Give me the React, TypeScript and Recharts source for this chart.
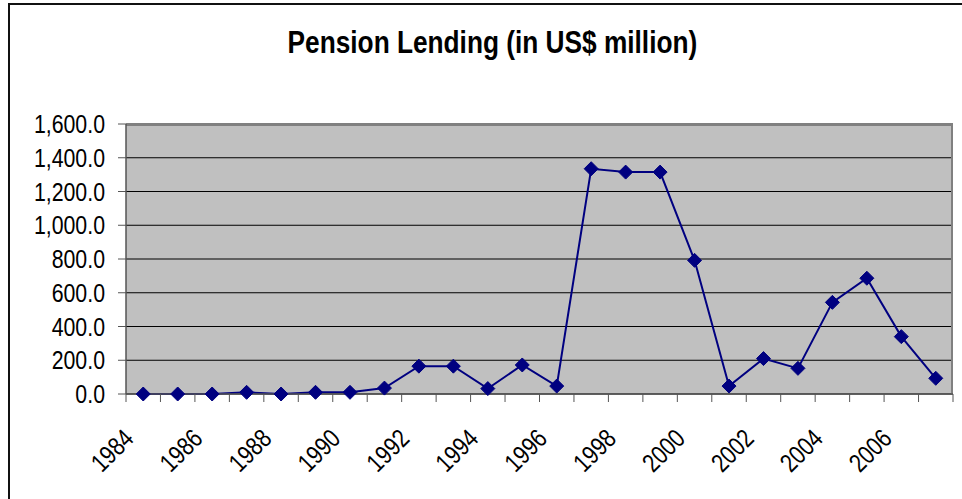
import { LineChart, Line, XAxis, YAxis, CartesianGrid } from 'recharts';

const YEARS = [
  '1984', '1985', '1986', '1987', '1988', '1989', '1990', '1991',
  '1992', '1993', '1994', '1995', '1996', '1997', '1998', '1999',
  '2000', '2001', '2002', '2003', '2004', '2005', '2006', '2007',
];

const LENDING = [
  0, 0, 0, 10, 0, 10, 10, 35,
  165, 165, 32, 172, 47, 1335, 1315, 1315,
  792, 47, 210, 152, 543, 686, 340, 93,
];

const Y_TICKS = [0, 200, 400, 600, 800, 1000, 1200, 1400, 1600];

const data = YEARS.map((year, i) => ({ year, value: LENDING[i] }));

// no Arial Narrow available, so squeeze Liberation Sans horizontally
const FONT = "'Liberation Sans', Arial, sans-serif";
const NARROW = 0.82;
const PLOT_W = 827;
const STEP = PLOT_W / YEARS.length;

const fmt = (v: number) =>
  v.toLocaleString('en-US', { minimumFractionDigits: 1, maximumFractionDigits: 1 });

// Diamond marker like Excel's default
function Diamond(props: any) {
  const { cx, cy } = props;
  if (cx == null || cy == null) return null;
  const r = 7;
  return (
    <path
      d={`M${cx},${cy - r} L${cx + r},${cy} L${cx},${cy + r} L${cx - r},${cy} Z`}
      fill="#000080"
      stroke="#000080"
    />
  );
}

function ValueTick(props: any) {
  const { x, y, payload } = props;
  return (
    <text
      transform={`translate(${x}, ${y}) scale(${NARROW}, 1)`}
      textAnchor="end"
      dy="0.355em"
      fontSize={26}
      fontFamily={FONT}
      fill="#000"
    >
      {fmt(payload.value)}
    </text>
  );
}

// Year labels every other category, tick marks between categories
function YearTick(props: any) {
  const { x, y, payload, index } = props;
  const left = x - STEP / 2;
  const ax = x - 8;
  const ay = y + 46;
  return (
    <g>
      <line x1={left} y1={y} x2={left} y2={y + 8} stroke="#555" />
      {index === YEARS.length - 1 && (
        <line x1={x + STEP / 2} y1={y} x2={x + STEP / 2} y2={y + 8} stroke="#555" />
      )}
      {index % 2 === 0 && (
        <text
          textAnchor="end"
          fontSize={26}
          fontFamily={FONT}
          fill="#000"
          transform={`translate(${ax}, ${ay}) rotate(-45) scale(${NARROW}, 1)`}
        >
          {payload.value}
        </text>
      )}
    </g>
  );
}

export default function App() {
  return (
    <div
      style={{
        position: 'absolute',
        left: 0,
        top: 0,
        width: 962,
        height: 499,
        overflow: 'hidden',
        background: '#fff',
      }}
    >
      <div
        style={{
          position: 'absolute',
          left: 8,
          top: 3,
          width: 1000,
          height: 600,
          border: '2px solid #111',
        }}
      />
      <div
        style={{
          position: 'absolute',
          left: 0,
          top: 26,
          width: 985,
          textAlign: 'center',
          fontFamily: FONT,
          fontWeight: 'bold',
          fontSize: 32,
          lineHeight: '32px',
          color: '#000',
          transform: `scaleX(${NARROW})`,
          transformOrigin: '492px 0',
        }}
      >
        Pension Lending (in US$ million)
      </div>
      <div style={{ position: 'absolute', left: 0, top: 0 }}>
        <LineChart
          width={962}
          height={499}
          data={data}
          margin={{ top: 124, right: 9, bottom: 0, left: 0 }}
        >
          <CartesianGrid vertical={false} stroke="#000" fill="#C0C0C0" fillOpacity={1} />
          <CartesianGrid
            horizontalPoints={[125]}
            verticalPoints={[952]}
            stroke="#808080"
            strokeWidth={2}
          />
          <XAxis
            dataKey="year"
            interval={0}
            height={105}
            padding={{ left: STEP / 2, right: STEP / 2 }}
            axisLine={{ stroke: '#555', strokeWidth: 1.5 }}
            tickLine={false}
            tickSize={0}
            tickMargin={0}
            tick={<YearTick />}
          />
          <YAxis
            width={126}
            domain={[0, 1600]}
            ticks={Y_TICKS}
            interval={0}
            axisLine={{ stroke: '#555', strokeWidth: 1.5 }}
            tickLine={{ stroke: '#555' }}
            tickSize={8}
            tickMargin={13}
            tick={<ValueTick />}
          />
          <Line
            type="linear"
            dataKey="value"
            stroke="#000080"
            strokeWidth={2}
            dot={<Diamond />}
            activeDot={false}
            isAnimationActive={false}
          />
        </LineChart>
      </div>
    </div>
  );
}
